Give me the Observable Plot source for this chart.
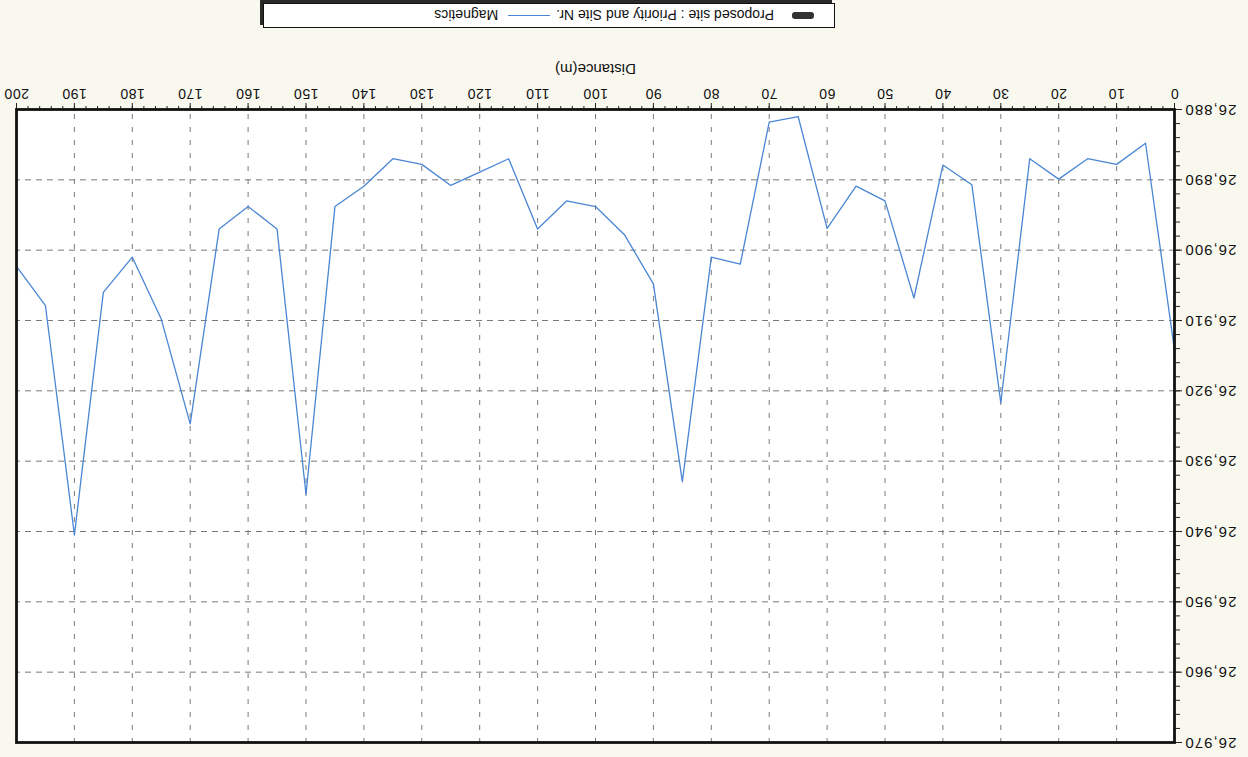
<!DOCTYPE html>
<html>
<head>
<meta charset="utf-8">
<script src="https://cdn.jsdelivr.net/npm/d3@7"></script>
<script src="https://cdn.jsdelivr.net/npm/@observablehq/plot@0.6"></script>
<style>
  html, body { margin: 0; padding: 0; background: #f9f8ef; }
  #wrap { position: relative; width: 1248px; height: 757px; overflow: hidden;
          transform: rotate(180deg); transform-origin: 50% 50%; }
  #chart { position: absolute; left: 0; top: 0; }
  .magchart [aria-label="y-axis tick label"] { letter-spacing: 1px; }
  .magchart [aria-label="x-axis tick label"] { letter-spacing: 0.5px; }
  #legend { position: absolute; left: 413px; top: 729px; width: 572px; height: 25px;
            box-sizing: border-box; border: 1px solid #111; box-shadow: 3px 3px 0 #2a2a2a;
            background: #fff; display: flex; align-items: center;
            font: 14px "Liberation Sans", Arial, sans-serif; color: #111; padding-left: 20px; }
  #legend .sw { width: 22px; height: 7px; border-radius: 3px; background: #333; margin-right: 18px; }
  #legend .ln { width: 42px; height: 0; border-top: 1.3px solid #4a86d4; margin: 0 10px 0 6px; }
</style>
</head>
<body>
<div id="wrap">
  <div id="chart"></div>
  <div id="legend">
    <span class="sw"></span><span id="lg1"></span><span class="ln"></span><span id="lg2"></span>
  </div>
</div>
<script>
// Data
const distance = [0, 5, 10, 15, 20, 25, 30, 35, 40, 45, 50, 55, 60, 65, 70, 75, 80, 85, 90, 95,
                  100, 105, 110, 115, 120, 125, 130, 135, 140, 145, 150, 155, 160, 165, 170, 175,
                  180, 185, 190, 195, 200];
const magnetics = [26.9142, 26.8848, 26.8878, 26.8870, 26.8899, 26.8870, 26.9217, 26.8907, 26.8879, 26.9068,
                   26.8930, 26.8909, 26.8969, 26.8810, 26.8818, 26.9020, 26.9010, 26.9329, 26.9048, 26.8978,
                   26.8938, 26.8930, 26.8970, 26.8870, 26.8889, 26.8908, 26.8878, 26.8870, 26.8909, 26.8938,
                   26.9347, 26.8970, 26.8938, 26.8970, 26.9247, 26.9098, 26.9010, 26.9060, 26.9405, 26.9079,
                   26.9023];
const xTicks = [0, 10, 20, 30, 40, 50, 60, 70, 80, 90, 100, 110, 120, 130, 140, 150, 160, 170, 180, 190, 200];
const yTicks = [26.88, 26.89, 26.90, 26.91, 26.92, 26.93, 26.94, 26.95, 26.96, 26.97];
const xLabel = "Distance(m)";
const legendLabels = ["Proposed site : Priority and Site Nr.", "Magnetics"];

const xMinor = d3.range(0, 201, 2);
const yMinor = d3.range(0, 46).map(i => 26.88 + i * 0.002);
const data = distance.map((d, i) => ({distance: d, value: magnetics[i]}));
const fmtY = d => d3.format(".3f")(d).replace(".", ",");

const chart = Plot.plot({
  className: "magchart",
  width: 1248,
  height: 700,
  marginTop: 14,
  marginBottom: 53,
  marginLeft: 73,
  marginRight: 17,
  style: {background: "transparent", fontFamily: "'Liberation Sans', Arial, sans-serif", fontSize: "14px", color: "#111"},
  x: {domain: [0, 200]},
  y: {domain: [26.88, 26.97]},
  marks: [
    Plot.frame({fill: "white", stroke: null}),
    Plot.gridX(xTicks, {stroke: "#7a7a7a", strokeOpacity: 1, strokeWidth: 1, strokeDasharray: "5,8"}),
    Plot.gridY(yTicks, {stroke: "#7a7a7a", strokeOpacity: 1, strokeWidth: 1, strokeDasharray: "6,5"}),
    Plot.line(data, {x: "distance", y: "value", stroke: "#4a86d4", strokeWidth: 1.3}),
    Plot.axisX(xMinor, {tickSize: 4, tickFormat: () => "", label: null, stroke: "#222"}),
    Plot.axisX(xTicks, {tickSize: 7, tickPadding: 4, label: null, stroke: "#222", fontSize: 14}),
    Plot.axisY(yMinor, {tickSize: 5, tickFormat: () => "", label: null, stroke: "#222"}),
    Plot.axisY(yTicks, {tickSize: 7, tickPadding: 3, tickFormat: fmtY, label: null, stroke: "#222", fontSize: 15}),
    Plot.text([xLabel], {frameAnchor: "bottom", dy: 46, fontSize: 15, fill: "#111"}),
    Plot.frame({stroke: "#111", strokeWidth: 2.8})
  ]
});
document.getElementById("chart").appendChild(chart);
document.getElementById("lg1").textContent = legendLabels[0];
document.getElementById("lg2").textContent = legendLabels[1];
</script>
</body>
</html>
